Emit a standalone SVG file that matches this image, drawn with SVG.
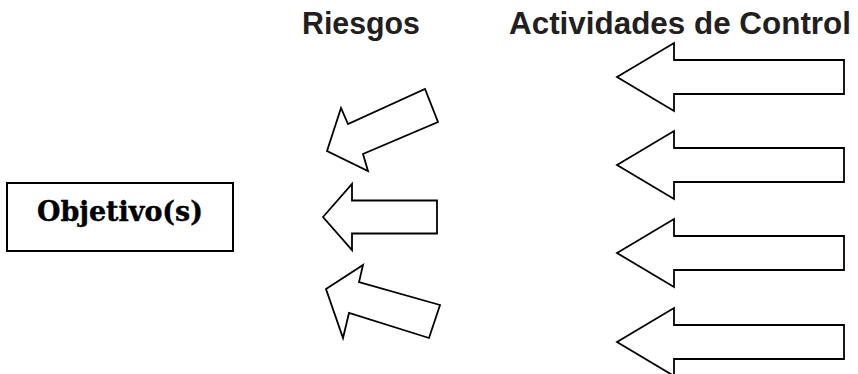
<svg xmlns="http://www.w3.org/2000/svg" width="858" height="374" viewBox="0 0 858 374">
<style>
.arrow{fill:#fff;stroke:#000;stroke-width:1.8;stroke-linejoin:miter}
.hdr{font-family:"Liberation Sans",Arial,sans-serif;font-weight:bold;font-size:31px;fill:#231f20}
.obj{font-family:"DejaVu Serif","Liberation Serif",serif;font-weight:bold;font-size:27px;fill:#000;stroke:#000;stroke-width:0.4}
.box{fill:#fff;stroke:#000;stroke-width:2}
</style>
<defs>
<polygon id="ctl" class="arrow" points="0,0 57,-34 57,-17 227,-17 227,17 57,17 57,34"/>
</defs>
<rect width="858" height="374" fill="#fff"/>
<g id="headers">
<text class="hdr" x="302" y="34" textLength="118" lengthAdjust="spacingAndGlyphs">Riesgos</text>
<text class="hdr" x="509" y="34" textLength="342" lengthAdjust="spacingAndGlyphs">Actividades de Control</text>
</g>
<g id="objetivo">
<rect class="box" x="7" y="183" width="226" height="68"/>
<text class="obj" x="120" y="221" text-anchor="middle" textLength="166" lengthAdjust="spacingAndGlyphs">Objetivo(s)</text>
</g>
<g id="connectors">
<g id="riesgo1"><polygon class="arrow" points="327,151 341,108 348,124 425,89 438,122 363,154 368,171"/></g>
<g id="riesgo2"><polygon class="arrow" points="323,217 352,184 352,200.5 437,200.5 437,233.5 352,233.5 352,250"/></g>
<g id="riesgo3"><polygon class="arrow" points="326,289 363,265 359,282 440,305 429,338 349,313 343,338"/></g>
<g id="control1"><use href="#ctl" transform="translate(617,77)"/></g>
<g id="control2"><use href="#ctl" transform="translate(617,165)"/></g>
<g id="control3"><use href="#ctl" transform="translate(617,253)"/></g>
<g id="control4"><use href="#ctl" transform="translate(617,342)"/></g>
</g>
</svg>
